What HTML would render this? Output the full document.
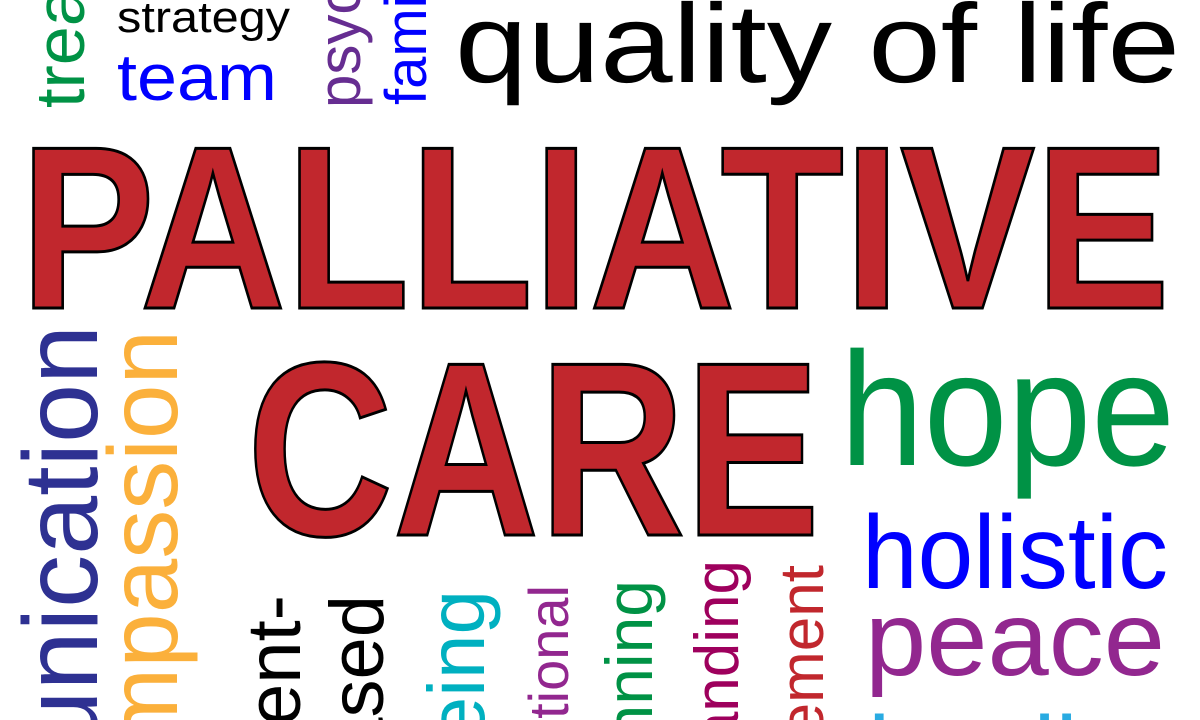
<!DOCTYPE html>
<html><head><meta charset="utf-8"><style>
html,body{margin:0;padding:0;background:#fff;width:1200px;height:720px;overflow:hidden}
svg{display:block}
text{font-family:"Liberation Sans",sans-serif}
</style></head><body>
<svg width="1200" height="720" viewBox="0 0 1200 720" style="overflow:hidden">
<rect width="1200" height="720" fill="#fff"/>
<text x="117" y="32" font-size="44" fill="#000" textLength="173" lengthAdjust="spacingAndGlyphs">strategy</text>
<text x="117" y="100" font-size="66" fill="#0000ff" textLength="160" lengthAdjust="spacingAndGlyphs">team</text>
<text x="455" y="82" font-size="112" fill="#000" textLength="725" lengthAdjust="spacingAndGlyphs">quality of life</text>
<text x="20" y="308" font-size="232" font-weight="600" fill="#c1272d" stroke="#000" stroke-width="3" textLength="1150" lengthAdjust="spacingAndGlyphs">PALLIATIVE</text>
<text x="247" y="535" font-size="248" font-weight="600" fill="#c1272d" stroke="#000" stroke-width="3" textLength="573" lengthAdjust="spacingAndGlyphs">CARE</text>
<text x="840" y="465" font-size="162" fill="#009245" textLength="335" lengthAdjust="spacingAndGlyphs">hope</text>
<text x="862" y="588" font-size="104" fill="#0000ff" textLength="306" lengthAdjust="spacingAndGlyphs">holistic</text>
<text x="865" y="675" font-size="106" fill="#92278f" textLength="300" lengthAdjust="spacingAndGlyphs">peace</text>
<text x="868" y="790" font-size="106" fill="#29abe2" textLength="320" lengthAdjust="spacingAndGlyphs">healing</text>

<text transform="translate(84,108) rotate(-90)" font-size="70" fill="#009245">treatment</text>
<text transform="translate(360,108) rotate(-90)" font-size="60" fill="#662d91">psychological</text>
<text transform="translate(426,105) rotate(-90)" font-size="58" fill="#0000ff">family</text>
<text transform="translate(97,325) rotate(-90)" font-size="106" fill="#2e3192" text-anchor="end">communication</text>
<text transform="translate(177,330) rotate(-90)" font-size="98" fill="#fbb03b" text-anchor="end">compassion</text>
<text transform="translate(300,595) rotate(-90)" font-size="76" fill="#000" text-anchor="end">patient-</text>
<text transform="translate(383,595) rotate(-90)" font-size="76" fill="#000" text-anchor="end">based</text>
<text transform="translate(484,590) rotate(-90)" font-size="80" fill="#00b0c0" text-anchor="end">wellbeing</text>
<text transform="translate(568,585) rotate(-90)" font-size="56" fill="#92278f" text-anchor="end">emotional</text>
<text transform="translate(652,580) rotate(-90)" font-size="66" fill="#009245" text-anchor="end">planning</text>
<text transform="translate(738,560) rotate(-90)" font-size="62" fill="#9e005d" text-anchor="end">understanding</text>
<text transform="translate(823,565) rotate(-90)" font-size="62" fill="#c1272d" text-anchor="end">management</text>
</svg>
</body></html>
